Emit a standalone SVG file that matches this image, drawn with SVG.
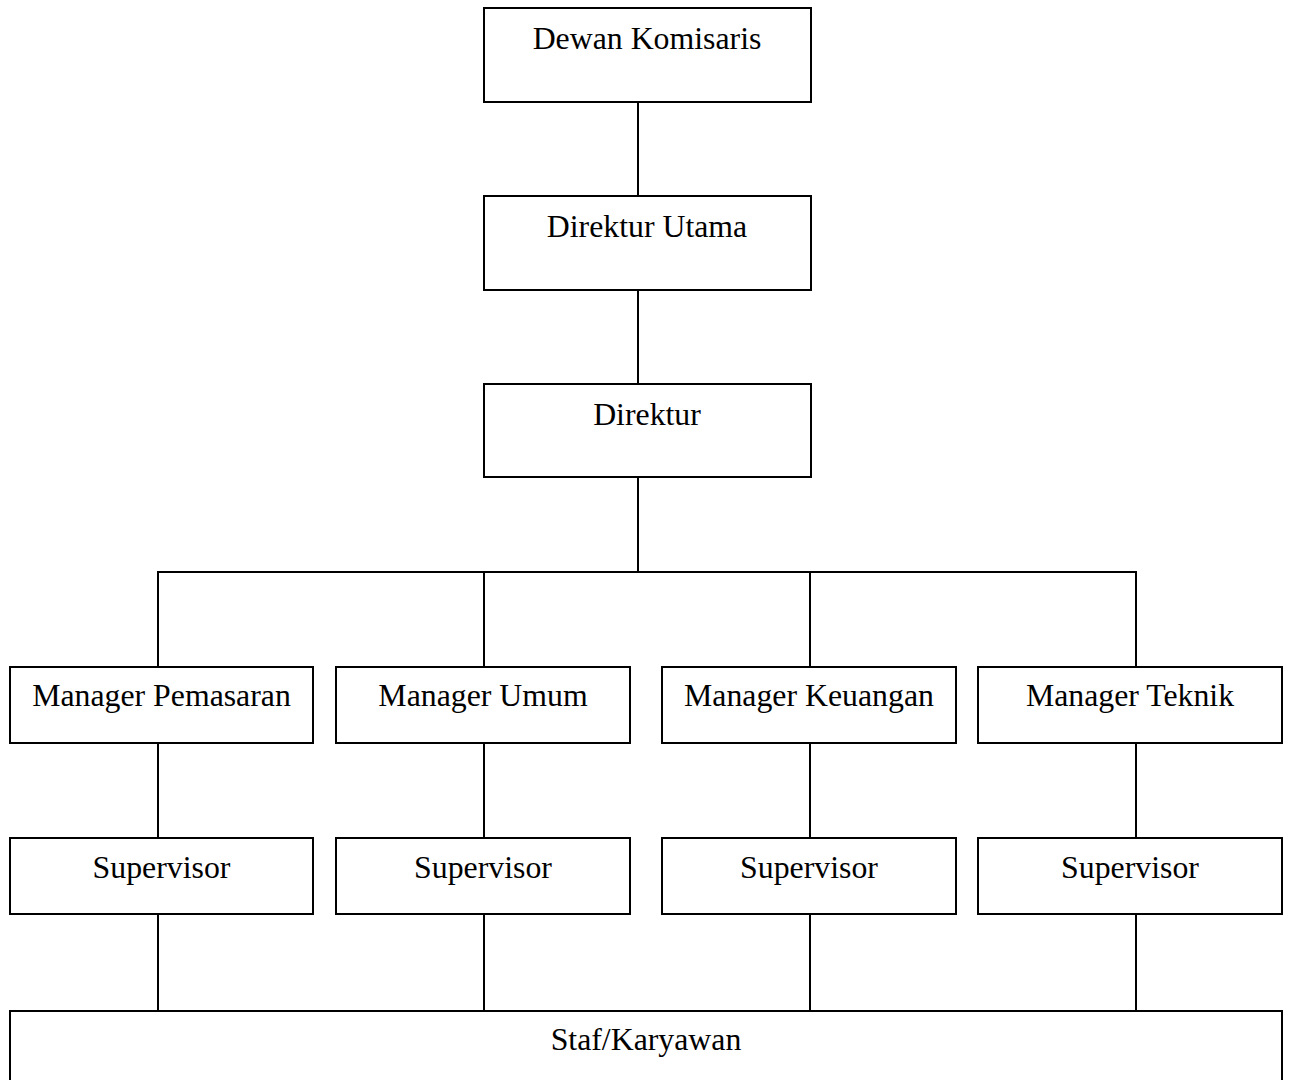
<svg xmlns="http://www.w3.org/2000/svg" width="1289" height="1080" viewBox="0 0 1289 1080">
<style>
.box{fill:#fff;stroke:#000;stroke-width:2}
.lbl{font-family:"Liberation Serif","Times New Roman",serif;font-size:31.8px;fill:#000;text-anchor:middle}
.c{stroke:#000;stroke-width:2;fill:none}
</style>
<rect width="1289" height="1080" fill="#fff"/>
<g id="connectors">
<line class="c" x1="638" y1="102" x2="638" y2="196"/>
<line class="c" x1="638" y1="290" x2="638" y2="384"/>
<line class="c" x1="638" y1="477" x2="638" y2="572"/>
<line class="c" x1="157" y1="572" x2="1137" y2="572"/>
<line class="c" x1="158" y1="572" x2="158" y2="667"/>
<line class="c" x1="484" y1="572" x2="484" y2="667"/>
<line class="c" x1="810" y1="572" x2="810" y2="667"/>
<line class="c" x1="1136" y1="572" x2="1136" y2="667"/>
<line class="c" x1="158" y1="741" x2="158" y2="838"/>
<line class="c" x1="484" y1="743" x2="484" y2="838"/>
<line class="c" x1="810" y1="743" x2="810" y2="838"/>
<line class="c" x1="1136" y1="743" x2="1136" y2="838"/>
<line class="c" x1="158" y1="914" x2="158" y2="1011"/>
<line class="c" x1="484" y1="914" x2="484" y2="1011"/>
<line class="c" x1="810" y1="914" x2="810" y2="1011"/>
<line class="c" x1="1136" y1="914" x2="1136" y2="1011"/>
</g>
<g id="dewan-komisaris"><rect class="box" x="484" y="8" width="327" height="94"/><text class="lbl" x="647" y="49">Dewan Komisaris</text></g>
<g id="direktur-utama"><rect class="box" x="484" y="196" width="327" height="94"/><text class="lbl" x="647" y="237">Direktur Utama</text></g>
<g id="direktur"><rect class="box" x="484" y="384" width="327" height="93"/><text class="lbl" x="647" y="425">Direktur</text></g>
<g id="manager-pemasaran"><rect class="box" x="10" y="667" width="303" height="76"/><text class="lbl" x="161.5" y="706">Manager Pemasaran</text></g>
<g id="manager-umum"><rect class="box" x="336" y="667" width="294" height="76"/><text class="lbl" x="483" y="706">Manager Umum</text></g>
<g id="manager-keuangan"><rect class="box" x="662" y="667" width="294" height="76"/><text class="lbl" x="809" y="706">Manager Keuangan</text></g>
<g id="manager-teknik"><rect class="box" x="978" y="667" width="304" height="76"/><text class="lbl" x="1130" y="706">Manager Teknik</text></g>
<g id="supervisor-1"><rect class="box" x="10" y="838" width="303" height="76"/><text class="lbl" x="161.5" y="878">Supervisor</text></g>
<g id="supervisor-2"><rect class="box" x="336" y="838" width="294" height="76"/><text class="lbl" x="483" y="878">Supervisor</text></g>
<g id="supervisor-3"><rect class="box" x="662" y="838" width="294" height="76"/><text class="lbl" x="809" y="878">Supervisor</text></g>
<g id="supervisor-4"><rect class="box" x="978" y="838" width="304" height="76"/><text class="lbl" x="1130" y="878">Supervisor</text></g>
<g id="staf-karyawan"><rect class="box" x="10" y="1011" width="1272" height="90"/><text class="lbl" x="646" y="1050">Staf/Karyawan</text></g>
</svg>
